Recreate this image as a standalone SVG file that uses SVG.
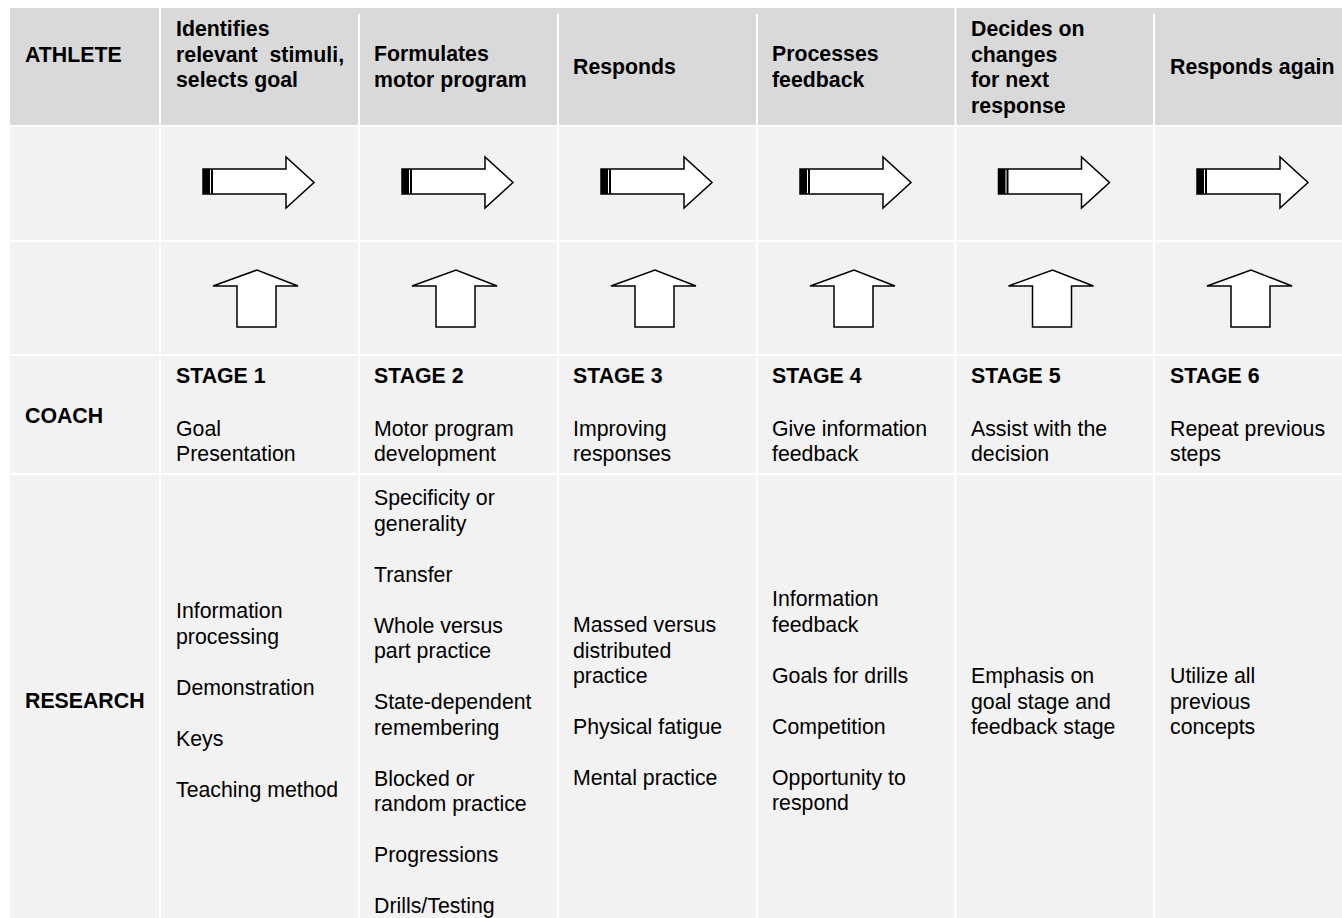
<svg xmlns="http://www.w3.org/2000/svg" xmlns:xlink="http://www.w3.org/1999/xlink" width="1342" height="918" viewBox="0 0 1342 918">
<style>
.hd{fill:#d9d9d9}
.bd{fill:#f2f2f2}
.grid{stroke:#ffffff;stroke-width:2;fill:none}
text{font-family:"Liberation Sans",Arial,Helvetica,sans-serif;font-size:21.3px;fill:#000}
.b{font-weight:bold}
.pre{white-space:pre}
.ar{fill:#ffffff;stroke:#000;stroke-width:1.5;stroke-linejoin:miter}
</style>
<defs>
<g id="rightArrow">
<polygon class="ar" points="203,169 286,169 286,157 314,182.5 286,208 286,194 203,194"/>
<rect x="203" y="169" width="7" height="25" fill="#000"/>
<line x1="212" y1="169" x2="212" y2="194" stroke="#000" stroke-width="2"/>
</g>
<g id="upArrow">
<polygon class="ar" points="237,327 237,286 213,286 257,270 298,286 276,286 276,327"/>
</g>
</defs>
<rect width="1342" height="918" fill="#ffffff"/>
<g id="table-bg">
<rect class="hd" x="10" y="8" width="1332" height="118"/>
<rect class="bd" x="10" y="126" width="1332" height="792"/>
</g>
<g id="grid" class="grid">
<line x1="10" y1="126" x2="1342" y2="126"/>
<line x1="10" y1="241" x2="1342" y2="241"/>
<line x1="10" y1="355" x2="1342" y2="355"/>
<line x1="10" y1="474" x2="1342" y2="474"/>
<line x1="160" y1="8" x2="160" y2="918"/>
<line x1="359" y1="14" x2="359" y2="918"/>
<line x1="558" y1="14" x2="558" y2="918"/>
<line x1="757" y1="14" x2="757" y2="918"/>
<line x1="955.5" y1="8" x2="955.5" y2="918"/>
<line x1="1154" y1="14" x2="1154" y2="918"/>
</g>
<g id="connectors">
<use xlink:href="#rightArrow"/>
<use xlink:href="#rightArrow" transform="translate(199,0)"/>
<use xlink:href="#rightArrow" transform="translate(398,0)"/>
<use xlink:href="#rightArrow" transform="translate(597,0)"/>
<use xlink:href="#rightArrow" transform="translate(795.5,0)"/>
<use xlink:href="#rightArrow" transform="translate(994,0)"/>
<use xlink:href="#upArrow"/>
<use xlink:href="#upArrow" transform="translate(199,0)"/>
<use xlink:href="#upArrow" transform="translate(398,0)"/>
<use xlink:href="#upArrow" transform="translate(597,0)"/>
<use xlink:href="#upArrow" transform="translate(795.5,0)"/>
<use xlink:href="#upArrow" transform="translate(994,0)"/>
</g>
<g id="row-labels">
<text class="b" x="25" y="62">ATHLETE</text>
<text class="b" x="25" y="423">COACH</text>
<text class="b" x="25" y="708">RESEARCH</text>
</g>
<g id="athlete-1"><text class="b" x="176" y="36">Identifies</text><text class="b pre" x="176" y="61.5">relevant  stimuli,</text><text class="b" x="176" y="87">selects goal</text></g>
<g id="athlete-2"><text class="b" x="374" y="61">Formulates</text><text class="b" x="374" y="86.5">motor program</text></g>
<g id="athlete-3"><text class="b" x="573" y="74">Responds</text></g>
<g id="athlete-4"><text class="b" x="772" y="61">Processes</text><text class="b" x="772" y="86.5">feedback</text></g>
<g id="athlete-5"><text class="b" x="971" y="36">Decides on</text><text class="b" x="971" y="61.5">changes</text><text class="b" x="971" y="87">for next</text><text class="b" x="971" y="112.5">response</text></g>
<g id="athlete-6"><text class="b" x="1170" y="74">Responds again</text></g>
<g id="coach-1"><text class="b" x="176" y="383">STAGE 1</text><text x="176" y="435.5">Goal</text><text x="176" y="461">Presentation</text></g>
<g id="coach-2"><text class="b" x="374" y="383">STAGE 2</text><text x="374" y="435.5">Motor program</text><text x="374" y="461">development</text></g>
<g id="coach-3"><text class="b" x="573" y="383">STAGE 3</text><text x="573" y="435.5">Improving</text><text x="573" y="461">responses</text></g>
<g id="coach-4"><text class="b" x="772" y="383">STAGE 4</text><text x="772" y="435.5">Give information</text><text x="772" y="461">feedback</text></g>
<g id="coach-5"><text class="b" x="971" y="383">STAGE 5</text><text x="971" y="435.5">Assist with the</text><text x="971" y="461">decision</text></g>
<g id="coach-6"><text class="b" x="1170" y="383">STAGE 6</text><text x="1170" y="435.5">Repeat previous</text><text x="1170" y="461">steps</text></g>
<g id="research-1">
<text x="176" y="618">Information</text><text x="176" y="643.5">processing</text>
<text x="176" y="694.5">Demonstration</text>
<text x="176" y="745.5">Keys</text>
<text x="176" y="796.5">Teaching method</text>
</g>
<g id="research-2">
<text x="374" y="505">Specificity or</text><text x="374" y="530.5">generality</text>
<text x="374" y="581.5">Transfer</text>
<text x="374" y="632.5">Whole versus</text><text x="374" y="658">part practice</text>
<text x="374" y="709">State-dependent</text><text x="374" y="734.5">remembering</text>
<text x="374" y="785.5">Blocked or</text><text x="374" y="811">random practice</text>
<text x="374" y="862">Progressions</text>
<text x="374" y="913">Drills/Testing</text>
</g>
<g id="research-3">
<text x="573" y="632">Massed versus</text><text x="573" y="657.5">distributed</text><text x="573" y="683">practice</text>
<text x="573" y="734">Physical fatigue</text>
<text x="573" y="785">Mental practice</text>
</g>
<g id="research-4">
<text x="772" y="606">Information</text><text x="772" y="631.5">feedback</text>
<text x="772" y="682.5">Goals for drills</text>
<text x="772" y="733.5">Competition</text>
<text x="772" y="784.5">Opportunity to</text><text x="772" y="810">respond</text>
</g>
<g id="research-5">
<text x="971" y="683">Emphasis on</text><text x="971" y="708.5">goal stage and</text><text x="971" y="734">feedback stage</text>
</g>
<g id="research-6">
<text x="1170" y="683">Utilize all</text><text x="1170" y="708.5">previous</text><text x="1170" y="734">concepts</text>
</g>
</svg>
